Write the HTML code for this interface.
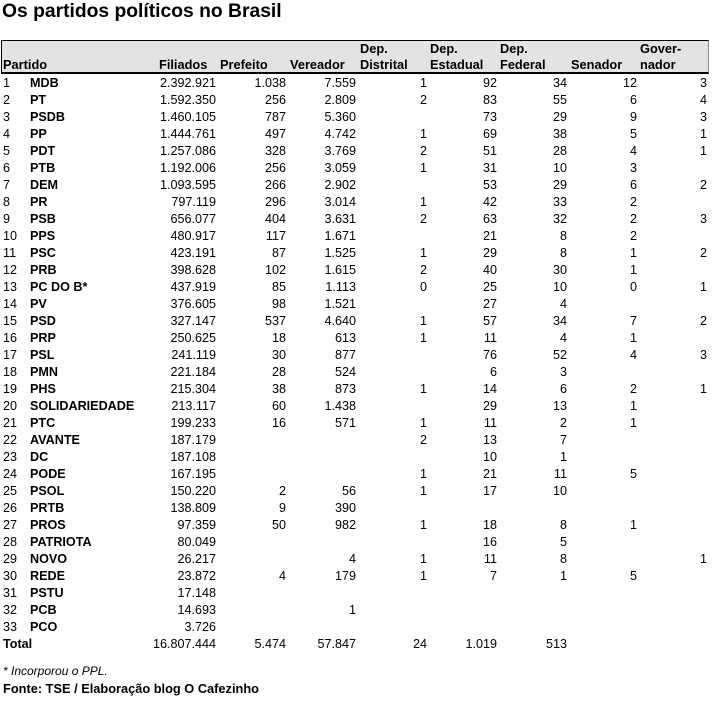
<!DOCTYPE html>
<html><head><meta charset="utf-8"><style>
body{margin:0;width:717px;height:701px;background:#fff;font-family:"Liberation Sans",Arial,sans-serif;color:#000;position:relative;overflow:hidden}
.t{position:absolute;left:2px;top:1px;font-size:19.3px;font-weight:bold;white-space:nowrap}
.hd{position:absolute;left:1px;top:40px;width:706px;height:31px;background:#e3e3e3;border-top:1px solid #000;border-left:1px solid #000;border-right:1px solid #888;border-bottom:2px solid #000}
.h{position:absolute;font-size:12.8px;font-weight:bold;line-height:16px;white-space:nowrap}
table{position:absolute;left:0;top:75px;width:707px;border-collapse:collapse;table-layout:fixed;font-size:12.6px}
td{height:17px;padding:0;line-height:17px;text-align:right;white-space:nowrap;overflow:visible;box-sizing:border-box}
td:first-child{text-align:left;padding-left:3px}
td:nth-child(2){text-align:left;font-weight:bold;padding-left:2px}
.n{position:absolute;left:3px;font-size:12px;font-style:italic;top:664px}
.f{position:absolute;left:3px;font-size:12.8px;font-weight:bold;top:681px}
</style></head><body>
<div class="t">Os partidos políticos no Brasil</div>
<div class="hd"></div>
<div class="h" style="left:3px;top:57px">Partido</div>
<div class="h" style="left:159px;top:57px">Filiados</div>
<div class="h" style="left:220px;top:57px">Prefeito</div>
<div class="h" style="left:290px;top:57px">Vereador</div>
<div class="h" style="left:360px;top:41px">Dep.<br>Distrital</div>
<div class="h" style="left:430px;top:41px">Dep.<br>Estadual</div>
<div class="h" style="left:500px;top:41px">Dep.<br>Federal</div>
<div class="h" style="left:571px;top:57px">Senador</div>
<div class="h" style="left:640px;top:41px">Gover-<br>nador</div>
<table>
<colgroup><col style="width:28px"><col style="width:122px"><col style="width:66px"><col style="width:70px"><col style="width:70px"><col style="width:71px"><col style="width:70px"><col style="width:70px"><col style="width:70px"><col style="width:70px"></colgroup>
<tr><td>1</td><td>MDB</td><td>2.392.921</td><td>1.038</td><td>7.559</td><td>1</td><td>92</td><td>34</td><td>12</td><td>3</td></tr>
<tr><td>2</td><td>PT</td><td>1.592.350</td><td>256</td><td>2.809</td><td>2</td><td>83</td><td>55</td><td>6</td><td>4</td></tr>
<tr><td>3</td><td>PSDB</td><td>1.460.105</td><td>787</td><td>5.360</td><td></td><td>73</td><td>29</td><td>9</td><td>3</td></tr>
<tr><td>4</td><td>PP</td><td>1.444.761</td><td>497</td><td>4.742</td><td>1</td><td>69</td><td>38</td><td>5</td><td>1</td></tr>
<tr><td>5</td><td>PDT</td><td>1.257.086</td><td>328</td><td>3.769</td><td>2</td><td>51</td><td>28</td><td>4</td><td>1</td></tr>
<tr><td>6</td><td>PTB</td><td>1.192.006</td><td>256</td><td>3.059</td><td>1</td><td>31</td><td>10</td><td>3</td><td></td></tr>
<tr><td>7</td><td>DEM</td><td>1.093.595</td><td>266</td><td>2.902</td><td></td><td>53</td><td>29</td><td>6</td><td>2</td></tr>
<tr><td>8</td><td>PR</td><td>797.119</td><td>296</td><td>3.014</td><td>1</td><td>42</td><td>33</td><td>2</td><td></td></tr>
<tr><td>9</td><td>PSB</td><td>656.077</td><td>404</td><td>3.631</td><td>2</td><td>63</td><td>32</td><td>2</td><td>3</td></tr>
<tr><td>10</td><td>PPS</td><td>480.917</td><td>117</td><td>1.671</td><td></td><td>21</td><td>8</td><td>2</td><td></td></tr>
<tr><td>11</td><td>PSC</td><td>423.191</td><td>87</td><td>1.525</td><td>1</td><td>29</td><td>8</td><td>1</td><td>2</td></tr>
<tr><td>12</td><td>PRB</td><td>398.628</td><td>102</td><td>1.615</td><td>2</td><td>40</td><td>30</td><td>1</td><td></td></tr>
<tr><td>13</td><td>PC DO B*</td><td>437.919</td><td>85</td><td>1.113</td><td>0</td><td>25</td><td>10</td><td>0</td><td>1</td></tr>
<tr><td>14</td><td>PV</td><td>376.605</td><td>98</td><td>1.521</td><td></td><td>27</td><td>4</td><td></td><td></td></tr>
<tr><td>15</td><td>PSD</td><td>327.147</td><td>537</td><td>4.640</td><td>1</td><td>57</td><td>34</td><td>7</td><td>2</td></tr>
<tr><td>16</td><td>PRP</td><td>250.625</td><td>18</td><td>613</td><td>1</td><td>11</td><td>4</td><td>1</td><td></td></tr>
<tr><td>17</td><td>PSL</td><td>241.119</td><td>30</td><td>877</td><td></td><td>76</td><td>52</td><td>4</td><td>3</td></tr>
<tr><td>18</td><td>PMN</td><td>221.184</td><td>28</td><td>524</td><td></td><td>6</td><td>3</td><td></td><td></td></tr>
<tr><td>19</td><td>PHS</td><td>215.304</td><td>38</td><td>873</td><td>1</td><td>14</td><td>6</td><td>2</td><td>1</td></tr>
<tr><td>20</td><td>SOLIDARIEDADE</td><td>213.117</td><td>60</td><td>1.438</td><td></td><td>29</td><td>13</td><td>1</td><td></td></tr>
<tr><td>21</td><td>PTC</td><td>199.233</td><td>16</td><td>571</td><td>1</td><td>11</td><td>2</td><td>1</td><td></td></tr>
<tr><td>22</td><td>AVANTE</td><td>187.179</td><td></td><td></td><td>2</td><td>13</td><td>7</td><td></td><td></td></tr>
<tr><td>23</td><td>DC</td><td>187.108</td><td></td><td></td><td></td><td>10</td><td>1</td><td></td><td></td></tr>
<tr><td>24</td><td>PODE</td><td>167.195</td><td></td><td></td><td>1</td><td>21</td><td>11</td><td>5</td><td></td></tr>
<tr><td>25</td><td>PSOL</td><td>150.220</td><td>2</td><td>56</td><td>1</td><td>17</td><td>10</td><td></td><td></td></tr>
<tr><td>26</td><td>PRTB</td><td>138.809</td><td>9</td><td>390</td><td></td><td></td><td></td><td></td><td></td></tr>
<tr><td>27</td><td>PROS</td><td>97.359</td><td>50</td><td>982</td><td>1</td><td>18</td><td>8</td><td>1</td><td></td></tr>
<tr><td>28</td><td>PATRIOTA</td><td>80.049</td><td></td><td></td><td></td><td>16</td><td>5</td><td></td><td></td></tr>
<tr><td>29</td><td>NOVO</td><td>26.217</td><td></td><td>4</td><td>1</td><td>11</td><td>8</td><td></td><td>1</td></tr>
<tr><td>30</td><td>REDE</td><td>23.872</td><td>4</td><td>179</td><td>1</td><td>7</td><td>1</td><td>5</td><td></td></tr>
<tr><td>31</td><td>PSTU</td><td>17.148</td><td></td><td></td><td></td><td></td><td></td><td></td><td></td></tr>
<tr><td>32</td><td>PCB</td><td>14.693</td><td></td><td>1</td><td></td><td></td><td></td><td></td><td></td></tr>
<tr><td>33</td><td>PCO</td><td>3.726</td><td></td><td></td><td></td><td></td><td></td><td></td><td></td></tr>
<tr><td style="font-weight:bold">Total</td><td></td><td>16.807.444</td><td>5.474</td><td>57.847</td><td>24</td><td>1.019</td><td>513</td><td></td><td></td></tr>
</table>
<div class="n">* Incorporou o PPL.</div>
<div class="f">Fonte: TSE / Elaboração blog O Cafezinho</div>
</body></html>
